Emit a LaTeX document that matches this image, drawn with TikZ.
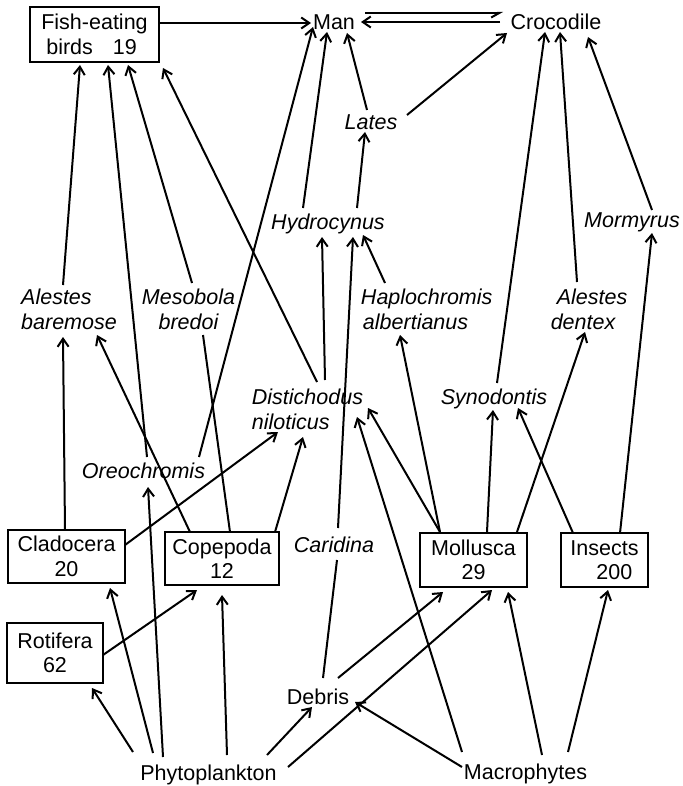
\documentclass[tikz,border=0pt]{standalone}
\usepackage{fontspec}
\setmainfont{Liberation Sans}
\usetikzlibrary{arrows.meta,calc}
\tikzset{
  fnt/.style={font=\fontsize{21.5}{24.5}\selectfont},
  ifnt/.style={font=\fontsize{21.5}{24.5}\selectfont\itshape},
  one/.style={fnt, inner sep=0pt, text height=15.5pt, text depth=0pt},
  ione/.style={ifnt, inner sep=0pt, text height=15.5pt, text depth=0pt},
  multi/.style={ifnt, inner sep=0pt},
  pbox/.style={fnt, draw, line width=2pt, inner sep=0pt, align=center},
  arr/.style={line width=2pt, -{Straight Barb[length=8pt,width=11pt]}},
  plain/.style={line width=2pt},
  harp/.style={line width=2pt, -{Straight Barb[harpoon,swap,length=8pt,width=9pt]}}
}
\begin{document}
\begin{tikzpicture}[x=1pt,y=-1pt]
\useasboundingbox (0,0) rectangle (682,786);
% boxes
\node[pbox, align=left, minimum width=129pt, minimum height=55pt] (fish) at (94.5,34.5) {Fish-eating\\\hspace*{5pt}birds\hspace{20pt}19};
\node[pbox, minimum width=117pt, minimum height=53pt] (clad) at (66.5,556.5) {Cladocera\\20};
\node[pbox, minimum width=114pt, minimum height=53pt] (cope) at (222,558.5) {Copepoda\\12};
\node[pbox, minimum width=107pt, minimum height=54pt] (moll) at (473.5,560) {Mollusca\\29};
\node[pbox, align=left, minimum width=87pt, minimum height=54pt] (ins) at (604.5,560) {Insects\\\hspace*{26pt}200};
\node[pbox, minimum width=96pt, minimum height=60pt] (rot) at (55,653) {Rotifera\\62};
% plain labels
\node[one] (man) at (334,22) {Man};
\node[one] (croc) at (556,22) {Crocodile};
\node[one] (debris) at (318,697) {Debris};
\node[one] (phyto) at (208.5,773) {Phytoplankton};
\node[one] (macro) at (525.5,772) {Macrophytes};
% italic labels
\node[ione] (lates) at (371,122) {Lates};
\node[ione] (hydro) at (328,222) {Hydrocynus};
\node[ione] (mormy) at (632,220) {Mormyrus};
\node[ione] (syn) at (494,397) {Synodontis};
\node[ione] (oreo) at (143.5,471) {Oreochromis};
\node[ione] (carid) at (334,545) {Caridina};
\node[multi, align=left] (alb) at (69,309.5) {Alestes\\baremose};
\node[multi, align=center] (meso) at (188.5,309.5) {Mesobola\\bredoi};
\node[multi, align=left] (hapl) at (426.7,309.5) {Haplochromis\\\hspace*{2pt}albertianus};
\node[multi, align=left] (aled) at (589,309.5) {\hspace*{6pt}Alestes\\dentex};
\node[multi, align=left] (dist) at (307.5,409.5) {Distichodus\\niloticus};
% connectors
\draw[arr] ($(fish)+(64.5,-11.5)$) -- ($(man)+(-23,1)$);
\draw[harp] ($(man)+(31,-9)$) -- ($(croc)+(-53,-9)$);
\draw[arr] ($(croc)+(-56,0)$) -- ($(man)+(27,0)$);
\draw[arr] ($(lates)+(-4,-12)$) -- ($(man)+(13,11)$);
\draw[arr] ($(lates)+(36,-7)$) -- ($(croc)+(-49,11)$);
\draw[arr] ($(hydro)+(29,-14)$) -- ($(lates)+(-6,10)$);
\draw[arr] ($(hydro)+(-25,-14)$) -- ($(man)+(-7,10)$);
\draw[arr] ($(oreo)+(55.5,-14)$) -- ($(man)+(-21,5)$);
\draw[arr] ($(oreo)+(3.5,-14)$) -- ($(fish)+(13.5,30.5)$);
\draw[arr] ($(alb)+(-6,-24.5)$) -- ($(fish)+(-14.5,30.5)$);
\draw[arr] ($(meso)+(3.5,-26.5)$) -- ($(fish)+(33.5,30.5)$);
\draw[arr] ($(dist)+(9.5,-27.5)$) -- ($(fish)+(68.5,33.5)$);
\draw[arr] ($(dist)+(17.5,-29.5)$) -- ($(hydro)+(-6,15)$);
\draw[arr] ($(carid)+(4,-17)$) -- ($(hydro)+(25,15)$);
\draw[arr] ($(hapl)+(-41.7,-26.5)$) -- ($(hydro)+(35,13)$);
\draw[arr] ($(syn)+(3,-14)$) -- ($(croc)+(-11,10)$);
\draw[arr] ($(aled)+(-12,-27.5)$) -- ($(croc)+(4,10)$);
\draw[arr] ($(mormy)+(20,-10)$) -- ($(croc)+(32,15)$);
\draw[arr] ($(clad)+(-1.5,-26.5)$) -- ($(alb)+(-6,27.5)$);
\draw[arr] ($(cope)+(-32,-26.5)$) -- ($(alb)+(28,25.5)$);
\draw[plain] ($(cope)+(8,-26.5)$) -- ($(meso)+(14.5,25.5)$);
\draw[arr] ($(clad)+(58.5,-11.5)$) -- ($(dist)+(-29.5,22.5)$);
\draw[arr] ($(cope)+(53,-26.5)$) -- ($(dist)+(-4.5,27.5)$);
\draw[arr] ($(phyto)+(-45.5,-16)$) -- ($(oreo)+(4.5,16)$);
\draw[arr] ($(phyto)+(-55.5,-20)$) -- ($(clad)+(43.5,31.5)$);
\draw[arr] ($(phyto)+(-75.5,-21)$) -- ($(rot)+(37,35)$);
\draw[arr] ($(phyto)+(18.5,-18)$) -- ($(cope)+(0,36.5)$);
\draw[arr] ($(rot)+(48,2)$) -- ($(cope)+(-25,31.5)$);
\draw[arr] ($(phyto)+(58.5,-18)$) -- ($(debris)+(-6,10)$);
\draw[arr] ($(phyto)+(79.5,-6)$) -- ($(moll)+(18.5,30)$);
\draw[plain] ($(debris)+(5,-19)$) -- ($(carid)+(3,15)$);
\draw[arr] ($(debris)+(20,-19)$) -- ($(moll)+(-30.5,32)$);
\draw[arr] ($(macro)+(-63.5,-5)$) -- ($(debris)+(37,5)$);
\draw[arr] ($(macro)+(-63.5,-20)$) -- ($(dist)+(49.5,7.5)$);
\draw[arr] ($(macro)+(16.5,-17)$) -- ($(moll)+(34.5,32)$);
\draw[arr] ($(macro)+(42.5,-20)$) -- ($(ins)+(3.5,30)$);
\draw[arr] ($(moll)+(-33.5,-28)$) -- ($(dist)+(60.5,-1.5)$);
\draw[arr] ($(moll)+(-33.5,-28)$) -- ($(hapl)+(-26.7,25.5)$);
\draw[arr] ($(moll)+(13.5,-28)$) -- ($(syn)+(-1,13)$);
\draw[arr] ($(moll)+(43.5,-28)$) -- ($(aled)+(-4,22.5)$);
\draw[arr] ($(ins)+(-31.5,-27)$) -- ($(syn)+(24,11)$);
\draw[arr] ($(ins)+(15.5,-27)$) -- ($(mormy)+(20,13)$);
\end{tikzpicture}
\end{document}
